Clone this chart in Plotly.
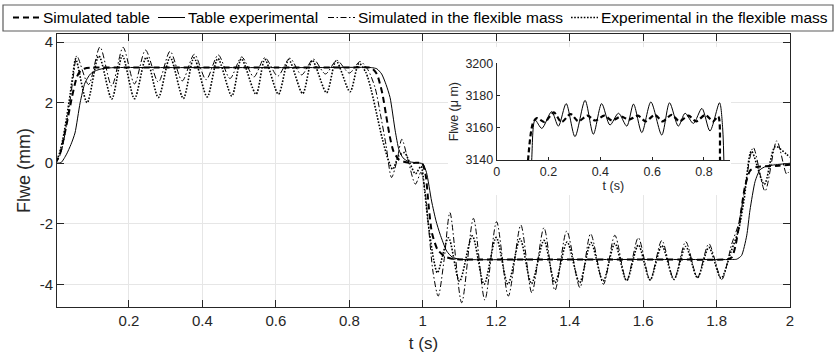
import plotly.graph_objects as go

# ---------------- data ----------------
# Simulated table (dashed)
t_sim_table = [0, 0.012, 0.022, 0.032, 0.045, 0.058, 0.068, 0.08, 0.1, 0.2, 0.4, 0.6, 0.8, 0.86,
               0.875, 0.89, 0.9, 0.91, 0.92, 0.935, 0.955, 0.975, 0.998, 1.008, 1.016, 1.025,
               1.04, 1.06, 1.08, 1.1, 1.3, 1.5, 1.7, 1.83, 1.842, 1.852, 1.862, 1.877, 1.891,
               1.91, 1.94, 1.97, 2.0]
y_sim_table = [0, 0.3, 0.8, 1.4, 2.2, 2.85, 3.05, 3.13, 3.16, 3.16, 3.16, 3.16, 3.16, 3.15,
               2.95, 2.3, 1.6, 0.9, 0.4, 0.12, 0.03, 0.01, 0.0, -0.4, -1.4, -2.3,
               -2.85, -3.08, -3.16, -3.18, -3.18, -3.18, -3.18, -3.17, -3.1, -2.7, -2.0, -0.8, -0.25,
               -0.12, -0.1, -0.08, -0.05]

# Table experimental (solid)
t_table_exp = [0, 0.015, 0.03, 0.042, 0.053, 0.067, 0.08, 0.095, 0.112, 0.13, 0.16, 0.3, 0.5, 0.7,
               0.86, 0.875, 0.888, 0.9, 0.911, 0.925, 0.935, 0.946, 0.96, 0.98, 1.0, 1.01, 1.024,
               1.036, 1.047, 1.065, 1.08, 1.1, 1.3, 1.5, 1.7, 1.84, 1.855, 1.868, 1.882, 1.891,
               1.905, 1.918, 1.935, 1.96, 1.985, 2.0]
y_table_exp = [0, 0.02, 0.3, 0.62, 1.0, 2.0, 2.65, 2.95, 3.07, 3.13, 3.16, 3.16, 3.16, 3.16,
               3.16, 3.12, 2.95, 2.6, 2.17, 1.07, 0.45, 0.18, 0.06, 0.02, -0.02, -0.3, -1.25,
               -1.9, -2.34, -2.9, -3.1, -3.17, -3.18, -3.18, -3.18, -3.18, -3.17, -3.05, -2.4, -1.55,
               -0.6, -0.22, -0.1, -0.05, -0.02, 0.0]

# Simulated in the flexible mass (dash-dot)
t_sim_flex = [0, 0.01, 0.02, 0.03, 0.04, 0.05, 0.058, 0.09, 0.121, 0.153, 0.184, 0.215, 0.245,
              0.28, 0.312, 0.345, 0.378, 0.41, 0.443, 0.475, 0.507, 0.54, 0.57, 0.605, 0.638,
              0.67, 0.702, 0.735, 0.766, 0.8, 0.829, 0.85, 0.87, 0.885, 0.9, 0.915, 0.93, 0.943,
              0.96, 0.98, 0.995, 1.005, 1.015, 1.028, 1.042, 1.058, 1.074, 1.106, 1.138, 1.169,
              1.201, 1.233, 1.267, 1.297, 1.33, 1.36, 1.392, 1.428, 1.457, 1.492, 1.523, 1.555,
              1.587, 1.619, 1.651, 1.684, 1.716, 1.748, 1.779, 1.814, 1.841, 1.86, 1.875, 1.9,
              1.932, 1.964, 1.991, 2.0]
y_sim_flex = [0, 0.2, 0.6, 1.3, 2.1, 3.0, 3.55, 2.6, 3.84, 2.55, 3.83, 2.62, 3.74,
              2.68, 3.70, 2.72, 3.60, 2.76, 3.58, 2.8, 3.51, 2.85, 3.49, 2.88, 3.47,
              2.92, 3.44, 2.95, 3.40, 2.98, 3.36, 3.1, 2.5, 1.6, 0.6, -0.47, 0.1, 0.79,
              0.1, -0.69, -0.3, -0.8, -2.0, -3.6, -4.39, -3.2, -1.63, -4.61, -1.82, -4.52,
              -1.93, -4.39, -2.04, -4.28, -2.13, -4.2, -2.24, -4.11, -2.33, -4.0, -2.38, -3.89,
              -2.46, -3.86, -2.55, -3.84, -2.59, -3.78, -2.66, -3.84, -2.68, -2.0, -1.0, 0.52,
              -0.92, 0.74, -0.36, -0.2]

# Experimental in the flexible mass (dotted)
t_exp_flex = [0, 0.01, 0.02, 0.03, 0.04, 0.048, 0.055, 0.086, 0.118, 0.153, 0.182, 0.215, 0.247,
              0.28, 0.312, 0.348, 0.377, 0.413, 0.442, 0.48, 0.506, 0.546, 0.57, 0.607, 0.635,
              0.673, 0.699, 0.738, 0.764, 0.802, 0.826, 0.845, 0.86, 0.875, 0.89, 0.905, 0.918,
              0.935, 0.95, 0.965, 0.98, 0.995, 1.005, 1.015, 1.03, 1.04, 1.07, 1.1, 1.135, 1.167,
              1.2, 1.232, 1.265, 1.296, 1.33, 1.36, 1.393, 1.427, 1.458, 1.491, 1.523, 1.555,
              1.587, 1.619, 1.651, 1.684, 1.716, 1.748, 1.779, 1.812, 1.84, 1.86, 1.875, 1.895,
              1.93, 1.96, 1.99, 2.0]
y_exp_flex = [0, 0.3, 0.8, 1.5, 2.3, 3.0, 3.45, 2.0, 3.55, 2.12, 3.55, 2.13, 3.5,
              2.17, 3.5, 2.14, 3.48, 2.19, 3.46, 2.22, 3.45, 2.28, 3.43, 2.28, 3.42,
              2.3, 3.4, 2.33, 3.38, 2.36, 3.3, 3.0, 2.4, 1.6, 0.8, 0.15, -0.2,
              0.25, 0.35, 0.0, -0.35, -0.1, -0.9, -2.0, -3.2, -3.62, -2.46, -3.9, -2.4, -4.0,
              -2.45, -4.0, -2.5, -3.98, -2.55, -3.95, -2.6, -3.95, -2.62, -3.9, -2.65, -3.88,
              -2.7, -3.86, -2.72, -3.84, -2.75, -3.78, -2.78, -3.8, -2.9, -2.2, -1.2, 0.4,
              -0.7, 0.55, 0.3, 0.2]

# Inset (micrometres)
t_in_exp = [0.128, 0.135, 0.148, 0.174, 0.212, 0.238, 0.268, 0.302, 0.341, 0.373, 0.405, 0.437,
            0.47, 0.502, 0.528, 0.56, 0.595, 0.637, 0.667, 0.701, 0.727, 0.759, 0.792, 0.823,
            0.86, 0.872, 0.878]
y_in_exp = [3100, 3140, 3164.8, 3159.6, 3170, 3161, 3175, 3154.5, 3177, 3156, 3175, 3161.7,
            3169, 3161, 3174.7, 3157, 3176, 3155.5, 3175.5, 3161, 3169, 3162.7, 3172, 3158,
            3175.5, 3160, 3130]
t_in_sim = [0.115, 0.121, 0.14, 0.155, 0.185, 0.22, 0.25, 0.285, 0.315, 0.35, 0.38, 0.415, 0.445,
            0.48, 0.51, 0.545, 0.575, 0.61, 0.64, 0.675, 0.705, 0.74, 0.77, 0.805, 0.835, 0.855,
            0.862, 0.866]
y_in_sim = [3110, 3140, 3163, 3166, 3163.5, 3169.5, 3163.5, 3168.5, 3164, 3167.5, 3164.5, 3167.5,
            3164.5, 3167, 3165, 3167.5, 3164, 3168, 3164, 3168, 3164, 3167.5, 3164, 3168, 3164,
            3167, 3140, 3110]

series_names = ["Simulated table", "Table experimental",
                "Simulated in the flexible mass", "Experimental in the flexible mass"]

x_ticks = [0.2, 0.4, 0.6, 0.8, 1, 1.2, 1.4, 1.6, 1.8, 2]
x_ticktext = ["0.2", "0.4", "0.6", "0.8", "1", "1.2", "1.4", "1.6", "1.8", "2"]
y_ticks = [-4, -2, 0, 2, 4]
y_ticktext = ["-4", "-2", "0", "2", "4"]
xi_ticks = [0, 0.2, 0.4, 0.6, 0.8]
xi_ticktext = ["0", "0.2", "0.4", "0.6", "0.8"]
yi_ticks = [3140, 3160, 3180, 3200]

# ---------------- styling ----------------
FONT = "Liberation Sans, Arial, Helvetica, sans-serif"
AX = "#262626"
W, H = 835, 353
ML, MR, MT, MB = 57, 45, 34, 46
PW, PH = W - ML - MR, H - MT - MB

line_styles = [
    dict(color="black", width=2, dash="6px,4px"),
    dict(color="black", width=1, dash="solid"),
    dict(color="black", width=1, dash="6px,2.5px,1.5px,2.5px"),
    dict(color="black", width=1.6, dash="1.6px,1.6px"),
]


def px_x(p):
    return (p - ML) / PW


def px_y(p):
    return (H - MB - p) / PH


fig = go.Figure()

main_series = [(t_sim_table, y_sim_table, 0.6), (t_table_exp, y_table_exp, 0.6),
               (t_sim_flex, y_sim_flex, 0.8), (t_exp_flex, y_exp_flex, 0.8)]
for idx in [3, 2, 1, 0]:
    tx, ty, sm = main_series[idx]
    fig.add_trace(go.Scatter(x=tx, y=ty, mode="lines", name=series_names[idx], showlegend=False,
                             line=dict(**line_styles[idx], shape="spline", smoothing=sm)))

# empty subplot whose white background hides the main grid behind the inset and its labels
fig.add_trace(go.Scatter(x=[], y=[], xaxis="x2", yaxis="y2", showlegend=False, hoverinfo="skip"))

fig.add_trace(go.Scatter(x=t_in_exp, y=y_in_exp, mode="lines", xaxis="x3", yaxis="y3", showlegend=False,
                         name="Table experimental",
                         line=dict(color="black", width=1, shape="spline", smoothing=0.8)))
fig.add_trace(go.Scatter(x=t_in_sim, y=y_in_sim, mode="lines", xaxis="x3", yaxis="y3", showlegend=False,
                         name="Simulated table",
                         line=dict(color="black", width=2.2, dash="5px,3px", shape="spline", smoothing=0.8)))

# ---------------- legend box (top, full width, single row) ----------------
LEG_FONT = 15.5
leg_y = 17.5
leg_sample_x = [13, 158, 328, 571]
sample_len = 27
fig.add_shape(type="rect", xref="paper", yref="paper", x0=px_x(3), x1=px_x(833), y0=px_y(31), y1=px_y(5),
              line=dict(color="#5c5c5c", width=1.2), fillcolor="white", layer="above")
for i, name in enumerate(series_names):
    sx = leg_sample_x[i]
    fig.add_shape(type="line", xref="paper", yref="paper", x0=px_x(sx), x1=px_x(sx + sample_len),
                  y0=px_y(leg_y), y1=px_y(leg_y), line=line_styles[i], layer="above")
    fig.add_annotation(xref="paper", yref="paper", x=px_x(sx + sample_len + 2), y=px_y(leg_y),
                       xanchor="left", yanchor="middle", text=name, showarrow=False,
                       borderpad=0, font=dict(family=FONT, size=LEG_FONT, color="black"))

fig.update_layout(
    width=W, height=H,
    margin=dict(l=ML, r=MR, t=MT, b=MB, autoexpand=False),
    paper_bgcolor="white", plot_bgcolor="white",
    font=dict(family=FONT, color=AX, size=15),
    showlegend=False,
    xaxis=dict(domain=[0, 1], range=[0.004, 2], tickvals=x_ticks, ticktext=x_ticktext,
               ticks="inside", ticklen=7, tickcolor=AX, showline=True, linecolor=AX, linewidth=1,
               mirror="ticks", showgrid=True, gridcolor="#e6e6e6", zeroline=False,
               tickfont=dict(size=15, color=AX),
               title=dict(text="t (s)", font=dict(size=17, color=AX), standoff=10)),
    yaxis=dict(domain=[0, 1], range=[-4.75, 4.27], tickvals=y_ticks, ticktext=y_ticktext,
               ticks="inside", ticklen=7, tickcolor=AX, showline=True, linecolor=AX, linewidth=1,
               mirror="ticks", showgrid=True, gridcolor="#e6e6e6", zeroline=False,
               tickfont=dict(size=15, color=AX),
               title=dict(text="Flwe (mm)", font=dict(size=18, color=AX), standoff=4)),
    xaxis2=dict(domain=[0.5334, 0.9195], anchor="y2", visible=False, range=[0, 1]),
    yaxis2=dict(domain=[0.41, 0.952], anchor="x2", visible=False, range=[0, 1]),
    xaxis3=dict(domain=[0.5999, 0.918], anchor="y3", range=[0, 0.9], tickvals=xi_ticks,
                ticktext=xi_ticktext, ticks="inside", ticklen=3, tickcolor=AX, showline=True,
                linecolor=AX, linewidth=1, mirror=False, showgrid=False, zeroline=False,
                tickfont=dict(size=12.5, color=AX),
                title=dict(text="t (s)", font=dict(size=12.5, color=AX), standoff=2)),
    yaxis3=dict(domain=[0.5385, 0.8927], anchor="x3", range=[3140, 3200], tickvals=yi_ticks,
                ticks="inside", ticklen=3, tickcolor=AX, showline=True, linecolor=AX, linewidth=1,
                mirror=False, showgrid=False, zeroline=False,
                tickfont=dict(size=12.5, color=AX),
                title=dict(text="Flwe (\u03bc m)", font=dict(size=12.5, color=AX), standoff=4)),
)

fig.write_html("out.html")
